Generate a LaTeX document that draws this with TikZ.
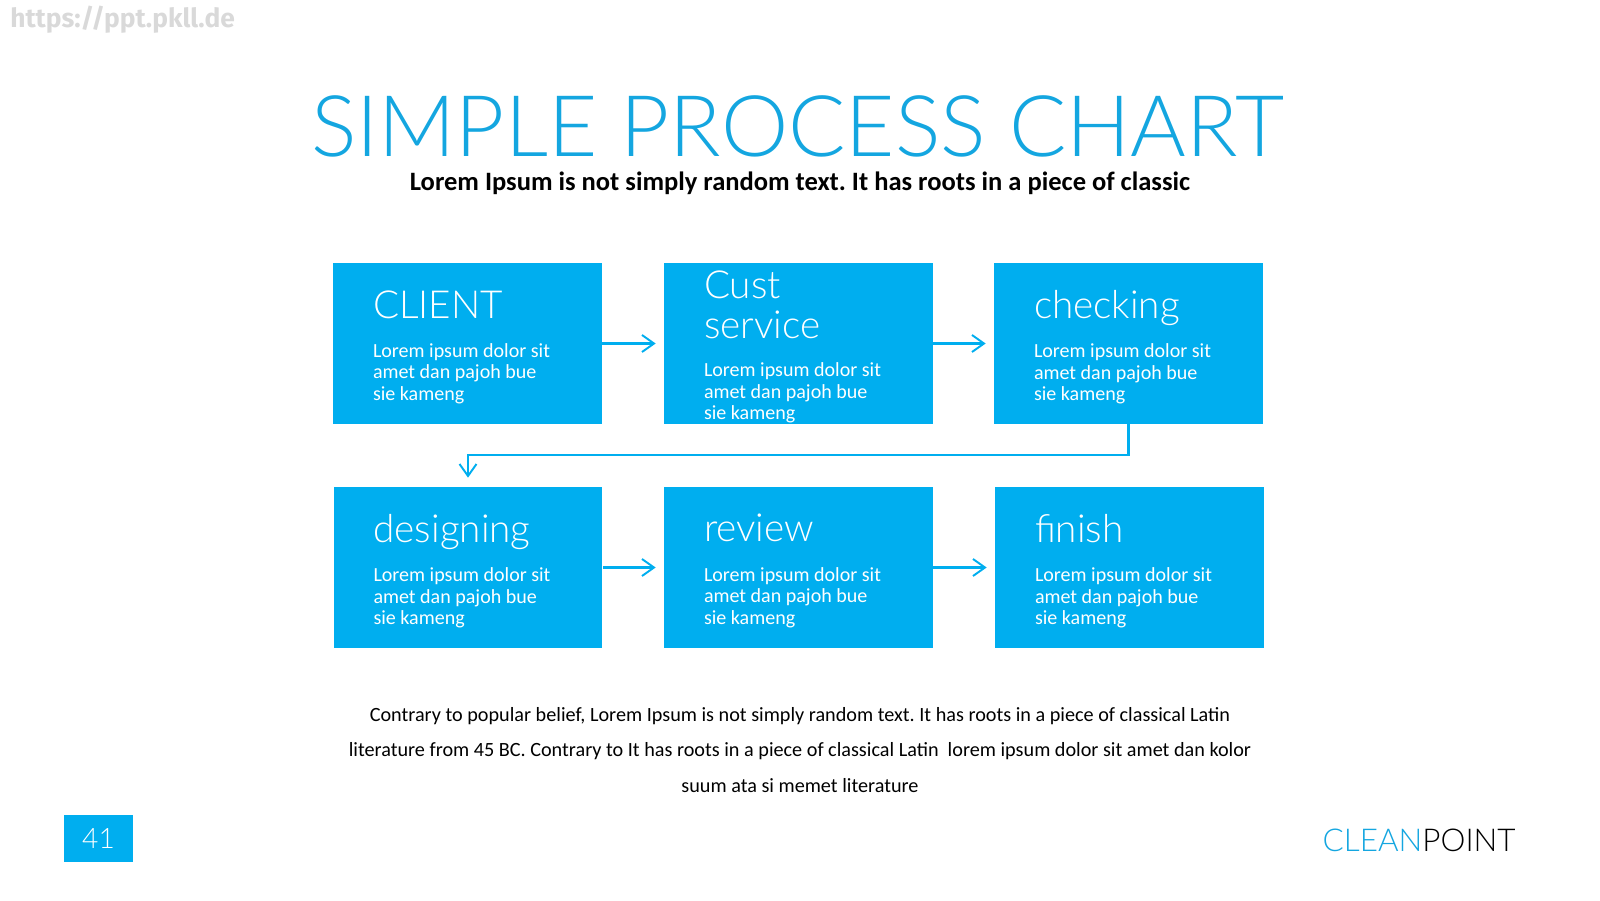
\documentclass[tikz,border=0pt]{standalone}
\usepackage{fontspec}
\setmainfont{Carlito}
\newfontfamily\thinfont{Lato Light}
\newfontfamily\urlfont{Fira Sans}
\usetikzlibrary{arrows.meta}
\definecolor{cpblue}{HTML}{00AEEF}
\definecolor{cptitle}{HTML}{14A6E0}
\newcommand{\cardtitle}{\thinfont\fontsize{22}{24}\selectfont}
\frenchspacing
\begin{document}
\begin{tikzpicture}[x=0.02cm, y=-0.02cm,
    card/.style={fill=cpblue, minimum width=5.38cm, minimum height=3.22cm, inner sep=0pt},
    cardtext/.style={anchor=west, align=left, text=white, inner sep=0pt, xshift=0.8cm, yshift=-0.07cm,
        font=\fontsize{11.4}{12.2}\selectfont},
    flow/.style={draw=cpblue, line width=1.2pt,
        -{Straight Barb[length=0.24cm, width=0.34cm, line width=1.1pt]}}]
    \useasboundingbox (0,0) rectangle (1600,900);

    % Watermark
    \node[anchor=base west, inner sep=0pt, text=black!15, font=\urlfont\bfseries\fontsize{15}{15}\selectfont] (url) at (10,27) {https://ppt.pkll.de};

    % Heading
    \node[anchor=base, text=cptitle, font=\thinfont\fontsize{48.4}{48}\selectfont] (title) at (798,156) {SIMPLE PROCESS CHART};
    \node[anchor=base, font=\bfseries\fontsize{15.1}{16}\selectfont] (subtitle) at (800,190) {Lorem Ipsum is not simply random text. It has roots in a piece of classic};

    % Process cards
    \foreach \name/\x/\y in {client/467.5/343.5, custserv/798.5/343.5, checking/1128.5/343.5,
                             designing/468/567.5, review/798.5/567.5, finish/1129.5/567.5}
        \node[card] (\name) at (\x,\y) {};

    % Card texts
    \node[cardtext] (clienttext) at (client.west) {{\cardtitle CLIENT}\\[10.2pt]Lorem ipsum dolor sit\\amet dan pajoh bue\\sie kameng};
    \node[cardtext] (custservtext) at (custserv.west) {{\cardtitle Cust}\\[6pt]{\cardtitle service}\\[9.5pt]Lorem ipsum dolor sit\\amet dan pajoh bue\\sie kameng};
    \node[cardtext] (checkingtext) at (checking.west) {{\cardtitle checking}\\[10.2pt]Lorem ipsum dolor sit\\amet dan pajoh bue\\sie kameng};
    \node[cardtext] (designingtext) at (designing.west) {{\cardtitle designing}\\[10.2pt]Lorem ipsum dolor sit\\amet dan pajoh bue\\sie kameng};
    \node[cardtext] (reviewtext) at (review.west) {{\cardtitle review}\\[10.2pt]Lorem ipsum dolor sit\\amet dan pajoh bue\\sie kameng};
    \node[cardtext] (finishtext) at (finish.west) {{\cardtitle finish}\\[10.2pt]Lorem ipsum dolor sit\\amet dan pajoh bue\\sie kameng};

    % Flow arrows
    \draw[flow, shorten >=0.16cm] (client.east) -- (custserv.west);
    \draw[flow, shorten >=0.16cm] (custserv.east) -- (checking.west);
    \draw[flow, shorten >=0.18cm] (checking.south) -- ++(0,31) -| (designing.north);
    \draw[flow, shorten >=0.16cm] (designing.east) -- (review.west);
    \draw[flow, shorten >=0.16cm] (review.east) -- (finish.west);

    % Body text
    \node[align=center, font=\fontsize{11.5}{20.3}\selectfont] (bodytext) at (800,750) {Contrary to popular belief, Lorem Ipsum is not simply random text. It has roots in a piece of classical Latin\\literature from 45 BC. Contrary to It has roots in a piece of classical Latin\ \ lorem ipsum dolor sit amet dan kolor\\suum ata si memet literature};

    % Footer
    \node[fill=cpblue, minimum width=1.38cm, minimum height=0.94cm, inner sep=0pt, text=white,
        font=\thinfont\fontsize{16}{16}\selectfont] (pagenum) at (98.5,838.5) {41};
    \node[anchor=base east, inner sep=0pt, font=\thinfont\fontsize{17.9}{18}\selectfont] (brand) at (1516,851) {\textcolor{cptitle}{CLEAN}POINT};
\end{tikzpicture}
\end{document}
